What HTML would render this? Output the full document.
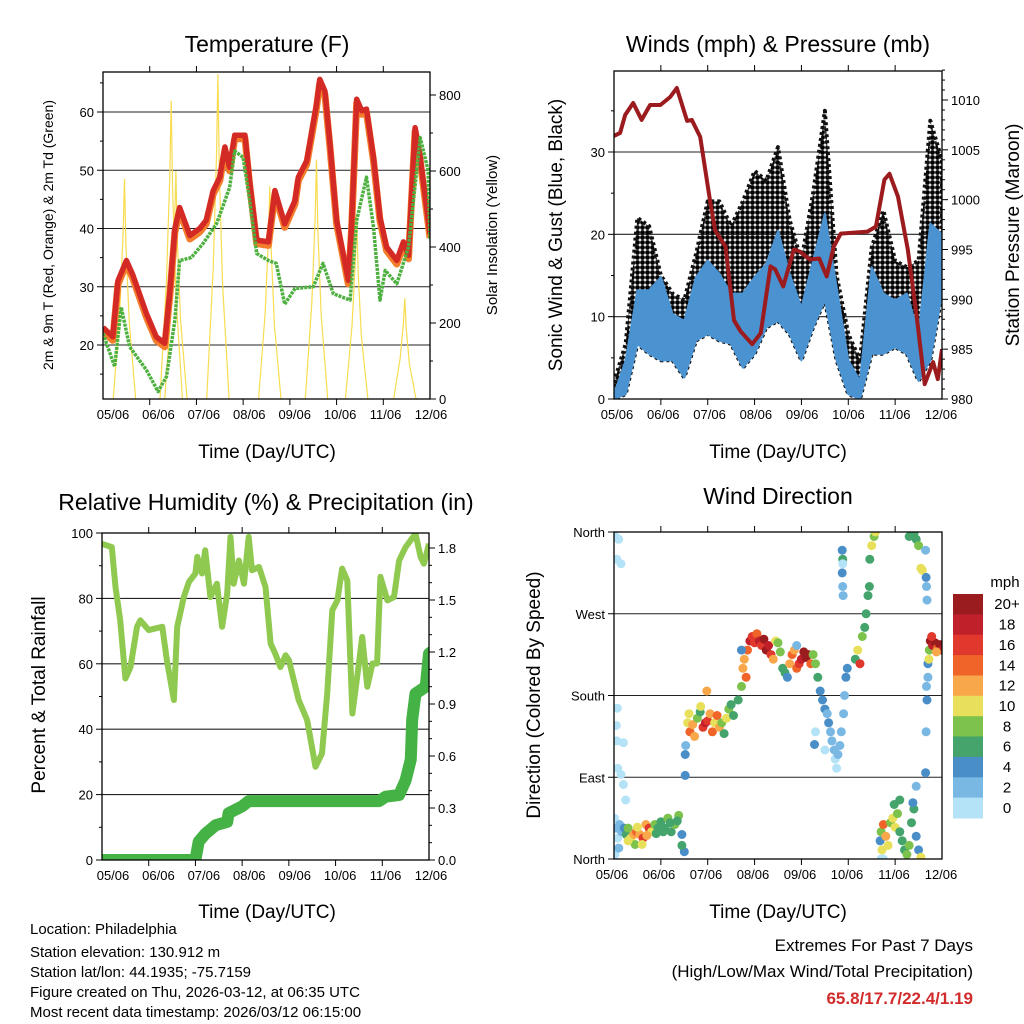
<!DOCTYPE html>
<html>
<head>
<meta charset="utf-8">
<style>
html,body{margin:0;padding:0;background:#fff;}
svg{display:block;font-family:"Liberation Sans",Arial,sans-serif;}
</style>
</head>
<body>
<svg id="fig" width="1024" height="1024" viewBox="0 0 1024 1024" xmlns="http://www.w3.org/2000/svg">
  <defs>
    <pattern id="dots" width="5" height="5" patternUnits="userSpaceOnUse">
      <circle cx="2.5" cy="2.5" r="2.4" fill="#000"/>
    </pattern>
  </defs>
  <rect x="0" y="0" width="1024" height="1024" fill="#fff"/>
  <text x="267" y="52" font-size="23" text-anchor="middle">Temperature (F)</text>
  <text x="778" y="52" font-size="23" text-anchor="middle">Winds (mph) &amp; Pressure (mb)</text>
  <text x="266" y="510" font-size="23" text-anchor="middle">Relative Humidity (%) &amp; Precipitation (in)</text>
  <text x="778" y="504" font-size="23" text-anchor="middle">Wind Direction</text>
  <text x="267" y="458" font-size="19" text-anchor="middle">Time (Day/UTC)</text>
  <text x="778" y="458" font-size="19" text-anchor="middle">Time (Day/UTC)</text>
  <text x="267" y="918" font-size="19" text-anchor="middle">Time (Day/UTC)</text>
  <text x="778" y="918" font-size="19" text-anchor="middle">Time (Day/UTC)</text>
  <text transform="translate(53,235) rotate(-90)" font-size="14" text-anchor="middle">2m &amp; 9m T (Red, Orange) &amp; 2m Td (Green)</text>
  <text transform="translate(497,235) rotate(-90)" font-size="15" text-anchor="middle">Solar Insolation (Yellow)</text>
  <text transform="translate(562,235) rotate(-90)" font-size="19" text-anchor="middle">Sonic Wind &amp; Gust (Blue, Black)</text>
  <text transform="translate(1019,235) rotate(-90)" font-size="19" text-anchor="middle">Station Pressure (Maroon)</text>
  <text transform="translate(45,695) rotate(-90)" font-size="19" text-anchor="middle">Percent &amp; Total Rainfall</text>
  <text transform="translate(540,695) rotate(-90)" font-size="19" text-anchor="middle">Direction (Colored By Speed)</text>
  <g font-size="15">
    <text x="30" y="934">Location: Philadelphia</text>
    <text x="30" y="957">Station elevation: 130.912 m</text>
    <text x="30" y="977">Station lat/lon: 44.1935; -75.7159</text>
    <text x="30" y="997">Figure created on Thu, 2026-03-12, at 06:35 UTC</text>
    <text x="30" y="1017">Most recent data timestamp: 2026/03/12 06:15:00</text>
  </g>
  <text x="973" y="951" font-size="17" text-anchor="end">Extremes For Past 7 Days</text>
  <text x="973" y="977" font-size="17" text-anchor="end">(High/Low/Max Wind/Total Precipitation)</text>
  <text x="973" y="1004" font-size="17" font-weight="bold" fill="#d22b2b" text-anchor="end">65.8/17.7/22.4/1.19</text>
  <text x="1005" y="587" font-size="15" text-anchor="middle">mph</text>
</svg>
<script>
var xTickLabels = ['05/06','06/06','07/06','08/06','09/06','10/06','11/06','12/06'];
var tempDays = [0,0.21,0.32,0.5,0.64,0.93,1.14,1.32,1.43,1.54,1.64,1.86,2.07,2.21,2.36,2.5,2.61,2.71,2.82,3.04,3.14,3.29,3.54,3.68,3.89,4.11,4.18,4.36,4.57,4.64,4.75,4.86,5.0,5.14,5.25,5.32,5.43,5.54,5.64,5.79,5.93,6.07,6.29,6.43,6.54,6.68,6.79,7.0];
var tempVals = [23,21.4,31,34.5,32,25.4,21.4,20.3,29,40,43.6,38.8,40,41.4,46.5,48.8,54,50.5,56,56,48,38,37.7,46.5,40.8,44.8,48.8,51.6,61.3,65.6,63.6,54.5,41.4,35.7,31.1,40.2,62.2,60.2,60.5,52.2,41.9,36.8,34.5,37.7,35.4,57.3,52.2,39];
var dewDays = [0,0.25,0.39,0.57,0.93,1.18,1.36,1.54,1.64,1.89,2.14,2.43,2.71,2.82,3.0,3.14,3.29,3.54,3.71,3.89,4.11,4.5,4.71,4.93,5.29,5.43,5.64,5.79,5.93,6.04,6.29,6.54,6.79,6.96,7.0];
var dewVals = [22,16.3,26.5,19.7,15.7,12,14.6,24.3,34.5,35,37.4,40.8,47,53.3,52.2,44.8,35.7,34.5,34,27,29.7,30,34,28.8,27.7,41.4,48.8,40.2,27.7,32.8,30.5,36.8,55.6,50,38,38];
var solarPeakDay = [0.46,1.46,1.56,2.46,3.57,4.57,5.43,6.46];
var solarPeakVal = [580,785,600,855,560,630,480,265];
var windDays = [0,0.25,0.5,0.75,1,1.25,1.5,1.75,2,2.25,2.5,2.75,3,3.25,3.5,3.75,4,4.25,4.5,4.75,5,5.25,5.5,5.75,6,6.25,6.5,6.75,7];
var gustTop = [2,6.7,22,21,15,12.8,12,17.6,24,24,21,24,27.7,26.5,30.6,21.7,16.8,25,35,15,7.9,4.7,18.4,22.9,16.8,16,16.8,33.8,29];
var windTop = [0.6,4.7,13.2,13.2,14.8,10.3,9.5,14.8,16.8,15.2,12.8,12.8,14.8,16.4,20.4,15.2,11.1,16.8,22.5,13.6,4.7,2.2,16,12.8,12,12.8,7.9,21.3,20];
var windBottom = [0,0.6,6.7,5.5,4.7,4.7,2.6,7.1,7.9,7.1,6.7,3.8,5.5,8.7,9.5,7.9,4.7,8.7,12,4.7,0.6,0,5.5,5.5,6.3,5.5,2.2,4.7,12.8];
var presDays = [0,0.13,0.24,0.41,0.59,0.77,0.99,1.2,1.34,1.56,1.66,1.84,2.06,2.16,2.38,2.56,2.7,2.95,3.13,3.34,3.44,3.61,3.84,3.96,4.18,4.38,4.54,4.69,4.84,5.41,5.59,5.77,5.88,6.06,6.27,6.45,6.63,6.81,6.91,7.0];
var presVals = [1006.4,1006.7,1008.5,1009.7,1008,1009.5,1009.5,1010.3,1011.2,1007.9,1008,1006.3,999.6,996.9,995.3,987.9,986.8,985.5,986.6,993.3,993,991.3,995,994.8,994,994.1,992.3,995.3,996.6,996.8,997.3,1002,1002.6,1000.3,995,988.7,981.5,983.7,982,985];
var rhDays = [0,0.21,0.29,0.39,0.5,0.61,0.75,0.82,1.0,1.29,1.39,1.54,1.61,1.75,1.86,2.0,2.04,2.14,2.21,2.32,2.46,2.57,2.68,2.75,2.82,2.93,3.04,3.14,3.21,3.36,3.5,3.61,3.71,3.82,3.93,4.0,4.21,4.39,4.57,4.71,4.82,4.93,5.04,5.14,5.25,5.36,5.5,5.57,5.68,5.79,5.89,5.96,6.11,6.25,6.36,6.5,6.71,6.82,6.89,7.0];
var rhVals = [96.7,95.7,83.5,73.3,55.5,59,71.3,73.3,70.3,71.3,61,48.9,71.3,80.4,85,87.6,92.7,87.6,94.7,80.4,84.5,71.3,81.5,98.8,84.5,91.6,84.5,98.8,88.6,89.6,83.5,66.2,63.1,59,62.6,61.1,48.9,42.8,28.5,32.6,50.9,76.4,79.4,89.1,85.5,44.8,60.1,68.2,53,60.1,60.1,86.6,79.4,80.4,91.6,95.7,99.8,92.7,90.6,96.7];
var rainDays = [0,2.0,2.07,2.21,2.43,2.68,2.71,3.0,3.14,5.93,6.07,6.36,6.5,6.61,6.64,6.71,6.93,7.0,7.05];
var rainVals = [0,0,0.106,0.15,0.2,0.22,0.27,0.31,0.34,0.34,0.365,0.375,0.46,0.58,0.81,0.96,1.0,1.19,1.2];
var dirDays = [0.01,0.05,0.08,0.12,0.16,0.22,0.26,0.3,0.36,0.42,0.48,0.55,0.62,0.68,0.75,0.8,0.87,0.94,1.0,1.08,1.15,1.22,1.3,1.38,1.45,1.5,1.45,0.45,0.6,0.02,0.1,0.3,0.9,1.05,1.2,1.35,0.7,0.5,
 0.03,0.1,0.06,0.15,0.07,0.05,0.06,0.2,0.08,0.15,0.2,0.25,
 1.52,1.52,1.53,1.57,1.6,1.62,1.68,1.72,1.78,1.84,1.9,1.95,2.0,2.05,2.1,2.15,2.2,2.25,2.3,2.35,2.4,2.45,2.5,2.55,1.98,1.85,
 2.65,2.72,2.75,2.78,2.82,2.85,2.9,2.95,3.0,3.05,3.1,3.15,3.2,3.25,3.3,3.35,3.4,3.45,3.5,3.55,3.6,3.65,3.7,3.75,3.8,3.85,3.9,3.95,4.0,4.05,4.1,4.15,4.2,4.25,4.3,4.35,3.9,2.72,
 4.4,4.45,4.5,4.55,4.58,4.62,4.65,4.7,4.72,4.75,4.78,4.82,4.85,4.9,4.92,4.95,4.98,4.3,4.5,4.28,
 5.15,5.2,5.25,5.3,5.35,5.38,5.42,5.46,5.5,5.55,5.58,5.45,
 4.87,4.88,4.87,4.88,4.89,4.88,
 5.68,5.7,5.72,5.75,5.8,5.85,5.9,5.95,6.0,6.05,6.1,6.15,6.2,6.25,6.3,6.35,6.4,6.45,6.5,6.55,5.98,6.1,6.38,5.7,5.75,6.45,
 6.3,6.4,6.45,6.5,6.55,6.58,6.65,6.66,6.67,6.68,6.67,6.68,6.66,6.65,6.7,6.7,6.72,6.73,
 6.75,6.8,6.85,6.9,6.95,7.0,6.78,6.88];
var dirVals = [45,34,23,38,30,34,27,34,23,27,30,27,23,38,34,30,38,34,41,34,45,30,38,48,27,8,15,16,16,5,12,20,28,30,40,42,26,35,
 355,352,330,325,166,147,130,128,100,93,82,65,
 92,115,125,150,160,140,148,135,155,162,145,150,152,160,140,150,158,145,150,138,155,165,170,158,185,168,
 175,190,210,220,200,230,240,245,238,248,240,235,242,230,235,225,220,240,238,228,210,205,200,215,225,230,210,215,220,228,222,225,215,225,215,200,235,230,
 185,175,165,160,150,140,130,120,110,100,115,125,140,160,180,200,210,140,120,126,
 220,230,215,245,255,270,290,330,345,355,360,300,
 340,330,315,300,290,325,
 20,30,10,38,25,15,40,45,35,50,30,20,10,5,15,40,55,25,10,2,60,65,62,0,0,80,
 355,358,352,345,320,318,340,310,300,285,190,175,140,95,200,215,220,230,
 240,235,238,232,236,230,245,228];
var dirSpeeds = [1,2,0,3,2,4,6,8,10,12,14,12,16,12,16,10,8,6,6,6,8,6,8,8,4,4,6,8,10,0,2,10,7,7,7,6,13,11,
 0,0,1,0,0,0,1,0,0,0,0,0,
 4,4,2,10,10,14,12,12,8,6,16,18,16,12,14,10,14,12,8,6,10,8,6,6,12,10,
 6,8,12,12,14,14,18,16,16,14,18,16,20,20,18,16,12,10,8,8,6,6,4,12,14,12,14,16,18,20,20,20,14,8,8,6,2,4,
 4,4,4,2,4,2,2,2,0,0,2,2,2,2,2,4,4,0,0,4,
 6,10,16,8,6,6,6,6,10,8,10,6,
 4,6,4,2,2,0,
 4,8,10,14,12,10,8,10,10,8,6,6,6,8,8,6,6,4,4,10,6,6,4,0,0,2,
 6,6,6,8,10,10,2,4,2,2,2,4,2,4,2,4,10,8,
 20,18,20,14,20,18,16,12];
var speedLabels = ['0','2','4','6','8','10','12','14','16','18','20+'];
var speedColors = ['#b4e2f6','#7ab8e4','#4a8ec8','#44a46c','#7cc24c','#e8e05a','#f8a84a','#f0642a','#e0382c','#c0202a','#9b1c1f'];
var dirLabels = ['North','East','South','West','North'];
var dirTicks = [0,90,180,270,360];

var NS = 'http://www.w3.org/2000/svg';
var svg = document.getElementById('fig');
function mk(tag, attrs, parent) {
  var e = document.createElementNS(NS, tag);
  for (var k in attrs) e.setAttribute(k, attrs[k]);
  (parent || svg).appendChild(e);
  return e;
}
function linScale(d0, d1, r0, r1) { return function (v) { return r0 + (v - d0) / (d1 - d0) * (r1 - r0); }; }

var P1 = {x0: 103, x1: 430, y0: 72, y1: 399, lab0: 113, lab1: 431};
var P2 = {x0: 614, x1: 942, y0: 71, y1: 399, lab0: 617, lab1: 941};
var P3 = {x0: 102, x1: 429, y0: 533, y1: 860, lab0: 113, lab1: 431};
var P4 = {x0: 614, x1: 942, y0: 532, y1: 859, lab0: 612, lab1: 941};

var x1s = linScale(0, 7, P1.x0, P1.x1);
var yT = linScale(20, 60, 345, 112);
var yS = linScale(0, 800, 399, 95);
var x2s = linScale(0, 7, P2.x0, P2.x1);
var yW = linScale(0, 30, 399, 152);
var yP = linScale(980, 1010, 399, 100);
var x3s = linScale(0, 7, P3.x0, P3.x1);
var yRH = linScale(0, 100, 860, 533);
var yR = linScale(0, 1.8, 860, 548);
var x4s = linScale(0, 7, P4.x0, P4.x1);
var yD = linScale(0, 360, 859, 532);

function clipFor(P, id) {
  var cp = mk('clipPath', {id: id});
  mk('rect', {x: P.x0, y: P.y0, width: P.x1 - P.x0, height: P.y1 - P.y0}, cp);
  return 'url(#' + id + ')';
}

function frame(P, name, gridYs, leftTicks, rightTicks) {
  var g = mk('g', {});
  
  
  gridYs.forEach(function (y) {
    var l = mk('line', {x1: P.x0, x2: P.x1, y1: y, y2: y, stroke: '#222', 'stroke-width': 1.1}, g);
    
    
  });
  var dx = (P.x1 - P.x0) / 7;
  for (var i = 1; i < 7; i++) {
    var xx = P.x0 + i * dx;
    var t1 = mk('line', {x1: xx, x2: xx, y1: P.y1, y2: P.y1 + 6, stroke: '#000'}, g);
    
    
    var t2 = mk('line', {x1: xx, x2: xx, y1: P.y0, y2: P.y0 - 6, stroke: '#000'}, g);
    
    
  }
  for (var j = 0; j < xTickLabels.length; j++) {
    var lx = P.lab0 + j * (P.lab1 - P.lab0) / 7;
    var tx = mk('text', {x: lx, y: P.y1 + 20, 'font-size': 13, 'text-anchor': 'middle'}, g);
    
    
    tx.textContent = xTickLabels[j];
  }
  (leftTicks || []).forEach(function (t) {
    var tl = mk('line', {x1: P.x0, x2: P.x0 - (t.minor ? 3 : 6), y1: t.y, y2: t.y, stroke: '#000'}, g);
    
    
    if (t.label !== undefined) {
      var tt = mk('text', {x: P.x0 - 9, y: t.y + 5, 'font-size': 13, 'text-anchor': 'end'}, g);
      
      
      tt.textContent = t.label;
    }
  });
  (rightTicks || []).forEach(function (t) {
    var tr = mk('line', {x1: P.x1, x2: P.x1 + (t.minor ? 3 : 6), y1: t.y, y2: t.y, stroke: '#000'}, g);
    
    
    if (t.label !== undefined) {
      var tt2 = mk('text', {x: P.x1 + 9, y: t.y + 5, 'font-size': 13, 'text-anchor': 'start'}, g);
      
      
      tt2.textContent = t.label;
    }
  });
}
function border(P, name) {
  var b = mk('rect', {x: P.x0, y: P.y0, width: P.x1 - P.x0, height: P.y1 - P.y0, fill: 'none', stroke: '#000', 'stroke-width': 1.3});
  
  
}
function pathFrom(xs, ys, xf, yf) {
  var d = '';
  for (var i = 0; i < xs.length; i++) d += (i ? 'L' : 'M') + xf(xs[i]).toFixed(1) + ',' + yf(ys[i]).toFixed(1);
  return d;
}

(function () {
  var lt = [], rt = [], grid = [];
  for (var v = 15; v <= 65; v += 5) {
    var isMaj = v % 10 === 0;
    lt.push({y: yT(v), minor: !isMaj, label: isMaj ? String(v) : undefined});
    if (isMaj) grid.push(yT(v));
  }
  for (var s = 0; s <= 800; s += 100) rt.push({y: yS(s), minor: s % 200 !== 0, label: s % 200 === 0 ? String(s) : undefined});
  frame(P1, 'temperature', grid, lt, rt);
  var cl = clipFor(P1, 'c1');
  var g = mk('g', {'clip-path': cl});
  
  
  for (var i = 0; i < solarPeakDay.length; i++) {
    var dd = [solarPeakDay[i] - 0.24, solarPeakDay[i] - 0.1, solarPeakDay[i] - 0.03, solarPeakDay[i], solarPeakDay[i] + 0.03, solarPeakDay[i] + 0.1, solarPeakDay[i] + 0.24];
    var vv = [0, solarPeakVal[i] * 0.4, solarPeakVal[i] * 0.75, solarPeakVal[i], solarPeakVal[i] * 0.7, solarPeakVal[i] * 0.35, 0];
    var sp = mk('path', {d: pathFrom(dd, vv, x1s, yS), fill: 'none', stroke: '#f8dc50', 'stroke-width': 1.2}, g);
    
    
  }
  var o = mk('path', {d: pathFrom(tempDays, tempVals.map(function (t) { return t - 0.6; }), x1s, yT), fill: 'none', stroke: '#f47d2b', 'stroke-width': 7, 'stroke-linejoin': 'round'}, g);
  
  
  var r = mk('path', {d: pathFrom(tempDays, tempVals, x1s, yT), fill: 'none', stroke: '#d42a26', 'stroke-width': 5.5, 'stroke-linejoin': 'round'}, g);
  
  
  var gd = mk('path', {d: pathFrom(dewDays, dewVals, x1s, yT), fill: 'none', stroke: '#4db03f', 'stroke-width': 3.5, 'stroke-dasharray': '3 1', 'stroke-linejoin': 'round'}, g);
  
  
  border(P1, 'temperature');
})();

(function () {
  var lt = [], rt = [], grid = [];
  for (var v = 0; v <= 35; v += 5) {
    var isMaj = v % 10 === 0;
    lt.push({y: yW(v), minor: !isMaj, label: isMaj ? String(v) : undefined});
    if (isMaj && v > 0) grid.push(yW(v));
  }
  for (var p = 980; p <= 1013; p += 1) rt.push({y: yP(p), minor: p % 5 !== 0, label: p % 5 === 0 ? String(p) : undefined});
  frame(P2, 'winds', grid, lt, rt);
  var cl = clipFor(P2, 'c2');
  var g = mk('g', {'clip-path': cl});
  
  
  var top = pathFrom(windDays, gustTop, x2s, yW);
  var revD = windDays.slice().reverse(), revB = windBottom.slice().reverse();
  var back = pathFrom(revD, revB, x2s, yW).replace('M', 'L');
  var gb = mk('path', {d: top + back + 'Z', fill: 'url(#dots)', stroke: '#111', 'stroke-width': 4, 'stroke-linejoin': 'round', 'stroke-dasharray': '3 3'}, g);
  
  
  var wt = pathFrom(windDays, windTop, x2s, yW);
  var wb = mk('path', {d: wt + back + 'Z', fill: '#4a92d0', stroke: '#4a92d0', 'stroke-width': 2, 'stroke-linejoin': 'round'}, g);
  
  
  var pr = mk('path', {d: pathFrom(presDays, presVals, x2s, yP), fill: 'none', stroke: '#9b1b1e', 'stroke-width': 4, 'stroke-linejoin': 'round'}, g);
  
  
  border(P2, 'winds');
})();

(function () {
  var lt = [], rt = [], grid = [];
  for (var v = 0; v <= 100; v += 10) {
    var isMaj = v % 20 === 0;
    lt.push({y: yRH(v), minor: !isMaj, label: isMaj ? String(v) : undefined});
    if (isMaj && v > 0 && v < 100) grid.push(yRH(v));
  }
  for (var k = 0; k <= 18; k++) {
    var rv = k * 0.1;
    rt.push({y: yR(rv), minor: k % 3 !== 0, label: k % 3 === 0 ? rv.toFixed(1) : undefined});
  }
  frame(P3, 'humidity', grid, lt, rt);
  var cl = clipFor(P3, 'c3');
  var g = mk('g', {'clip-path': cl});
  
  
  var rh = mk('path', {d: pathFrom(rhDays, rhVals, x3s, yRH), fill: 'none', stroke: '#8fc94f', 'stroke-width': 6, 'stroke-linejoin': 'round'}, g);
  
  
  var rn = mk('path', {d: pathFrom(rainDays, rainVals, x3s, yR), fill: 'none', stroke: '#45b245', 'stroke-width': 12, 'stroke-linejoin': 'round', 'stroke-linecap': 'round'}, g);
  
  
  border(P3, 'humidity');
})();

(function () {
  var lt = [], grid = [];
  for (var i = 0; i < dirTicks.length; i++) {
    lt.push({y: yD(dirTicks[i]), label: dirLabels[i]});
    if (i > 0 && i < dirTicks.length - 1) grid.push(yD(dirTicks[i]));
  }
  frame(P4, 'direction', grid, lt, []);
  var cl = clipFor(P4, 'c4');
  var g = mk('g', {'clip-path': cl});
  
  
  for (var j = 0; j < dirDays.length; j++) {
    var bin = Math.min(10, Math.max(0, Math.floor(dirSpeeds[j] / 2)));
    var c = mk('circle', {cx: x4s(dirDays[j]).toFixed(1), cy: yD(dirVals[j]).toFixed(1), r: 4.5, fill: speedColors[bin]}, g);
    
    
  }
  border(P4, 'direction');
  var cb = mk('g', {});
  
  
  var h = (818 - 594) / speedColors.length;
  for (var k = 0; k < speedColors.length; k++) {
    var idx = speedColors.length - 1 - k;
    var rr = mk('rect', {x: 953, y: (594 + k * h).toFixed(1), width: 30, height: (h + 0.5).toFixed(1), fill: speedColors[idx]}, cb);
    
    
    var tl = mk('text', {x: 1007, y: (594 + k * h + h / 2 + 5).toFixed(1), 'font-size': 15, 'text-anchor': 'middle'}, cb);
    
    
    tl.textContent = speedLabels[idx];
  }
})();
</script>
</body>
</html>
